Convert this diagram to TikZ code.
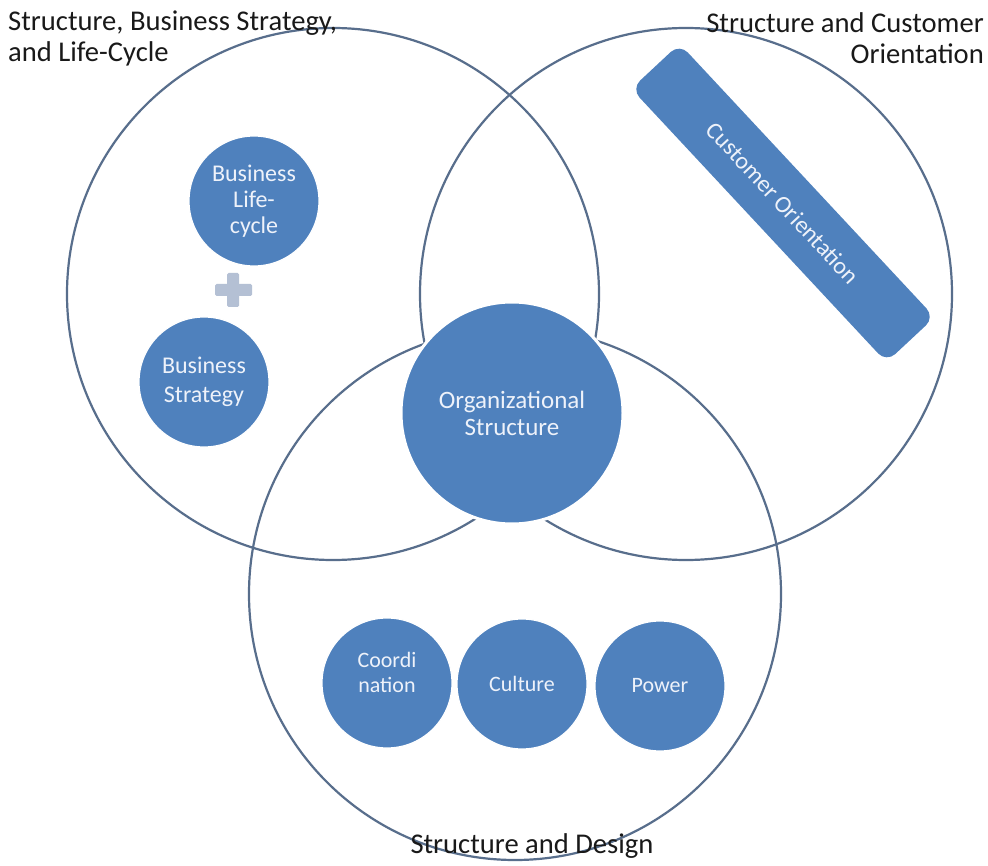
\documentclass[tikz,border=0pt]{standalone}
\usepackage{fontspec}
\setmainfont{Carlito}
\definecolor{shapeblue}{RGB}{79,129,189}
\definecolor{ringline}{RGB}{88,110,140}
\definecolor{lighttext}{RGB}{238,242,250}
\definecolor{plusgray}{RGB}{180,192,212}
\definecolor{titletext}{RGB}{25,25,25}
\tikzset{
  bigring/.style={draw=ringline, line width=2.2pt},
  bluedisc/.style={circle, fill=shapeblue, draw=white, line width=1.2pt, text=lighttext, align=center, inner sep=0pt},
  titlelabel/.style={text=titletext, font=\fontsize{28.6}{31}\selectfont, inner sep=0pt},
}
\begin{document}
\begin{tikzpicture}[x=1pt,y=-1pt]
\useasboundingbox (0,0) rectangle (988,866);
\fill[white] (0,0) rectangle (988,866);
% big rings
\coordinate (cl) at (333,294);
\coordinate (cr) at (686,294);
\coordinate (cb) at (515,594);
\draw[bigring] (cl) circle[radius=266pt];
\draw[bigring] (cr) circle[radius=266pt];
\draw[bigring] (cb) circle[radius=266pt];
% titles
\node[titlelabel, anchor=west, align=left] (tl) at (8,38) {Structure, Business Strategy,\\and Life-Cycle};
\node[titlelabel, anchor=east, align=right] (tr) at (984,38) {Structure and Customer\\Orientation};
\node[titlelabel, anchor=center] (tb) at (532,846) {Structure and Design};
% central
\node[bluedisc, minimum size=222pt, draw=white, line width=3pt, font=\fontsize{25}{27}\selectfont] (org) at (512,413) {Organizational\\Structure};
% left group
\node[bluedisc, minimum size=130pt, font=\fontsize{24}{26}\selectfont] (blc) at (254,201) {Business\\Life-\\cycle};
\node[bluedisc, minimum size=130pt, font=\fontsize{24}{29}\selectfont] (bst) at (204,382) {Business\\Strategy};
\fill[plusgray, rounded corners=1.5pt] (227,273) rectangle (239,307);
\fill[plusgray, rounded corners=1.5pt] (215,284) rectangle (252,296);
% customer orientation bar
\node[rectangle, rotate=-47, minimum width=374pt, minimum height=66pt, rounded corners=12pt, fill=shapeblue, text=lighttext, font=\fontsize{24}{27}\selectfont, inner sep=0pt] (cust) at (783,203) {Customer Orientation};
% bottom group
\node[bluedisc, minimum size=130pt, font=\fontsize{22}{25}\selectfont] (coord) at (387,683) {Coordi\\nation\\[-4pt]\mbox{}};
\node[bluedisc, minimum size=130pt, font=\fontsize{22}{25}\selectfont] (cult) at (522,684) {Culture};
\node[bluedisc, minimum size=130pt, font=\fontsize{22}{25}\selectfont] (pow) at (660,686) {Power};
\end{tikzpicture}
\end{document}
